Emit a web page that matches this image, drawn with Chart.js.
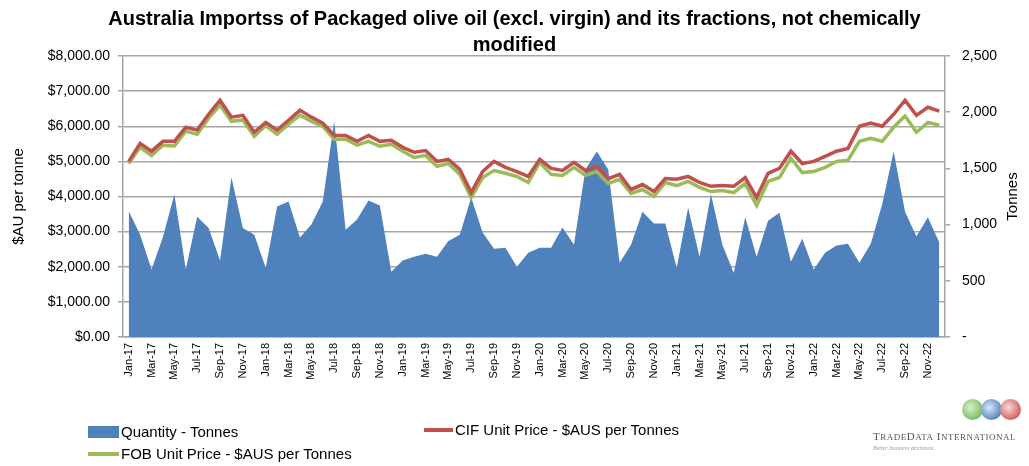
<!DOCTYPE html>
<html>
<head>
<meta charset="utf-8">
<script src="https://cdn.jsdelivr.net/npm/chart.js@4.4.1/dist/chart.umd.min.js"></script>
<style>
  html, body { margin: 0; padding: 0; background: #fff; }
  #wrap { position: relative; width: 1029px; height: 466px; font-family: 'Liberation Sans Narrow', 'Arial Narrow', 'Liberation Sans', sans-serif; color: #000; }
  #c { position: absolute; left: 0; top: 0; }
  .lg { position: absolute; font-size: 15px; line-height: 16px; white-space: nowrap; }
  .sw { position: absolute; }
  .logo-dot { position: absolute; width: 21px; height: 21px; border-radius: 50%; }
  .logo-txt { position: absolute; font-family: 'Liberation Serif', 'DejaVu Serif', serif; color: #555; white-space: nowrap; }
</style>
</head>
<body>
<div id="wrap">
  <canvas id="c" width="1029" height="466"></canvas>

  <div class="sw" style="left:88px;top:426px;width:31px;height:12px;background:#4F81BD"></div>
  <div class="lg" style="left:121px;top:424px">Quantity - Tonnes</div>

  <div class="sw" style="left:424px;top:428px;width:29px;height:4px;background:#C0504D"></div>
  <div class="lg" style="left:455px;top:422px">CIF Unit Price - $AUS per Tonnes</div>

  <div class="sw" style="left:88px;top:452px;width:31px;height:4px;background:#9BBB59"></div>
  <div class="lg" style="left:121px;top:446px">FOB Unit Price - $AUS per Tonnes</div>

  <div class="logo-dot" style="left:962px;top:399px;background:radial-gradient(circle at 40% 40%, #d8f0c8, #5aa83c)"></div>
  <div class="logo-dot" style="left:981px;top:399px;background:radial-gradient(circle at 40% 40%, #d8e8f8, #2a5fa8)"></div>
  <div class="logo-dot" style="left:1000px;top:399px;background:radial-gradient(circle at 40% 40%, #f8d8d8, #c83030)"></div>
  <div class="logo-txt" style="left:873px;top:430px;font-size:11px;letter-spacing:0.5px">T<span style="font-size:9px">RADE</span>D<span style="font-size:9px">ATA</span> I<span style="font-size:9px">NTERNATIONAL</span></div>
  <div class="logo-txt" style="left:873px;top:445px;font-size:6px;font-style:italic;color:#999">Better business decisions.</div>
</div>

<script>
const months = [
  'Jan-17','Feb-17','Mar-17','Apr-17','May-17','Jun-17','Jul-17','Aug-17','Sep-17','Oct-17','Nov-17','Dec-17',
  'Jan-18','Feb-18','Mar-18','Apr-18','May-18','Jun-18','Jul-18','Aug-18','Sep-18','Oct-18','Nov-18','Dec-18',
  'Jan-19','Feb-19','Mar-19','Apr-19','May-19','Jun-19','Jul-19','Aug-19','Sep-19','Oct-19','Nov-19','Dec-19',
  'Jan-20','Feb-20','Mar-20','Apr-20','May-20','Jun-20','Jul-20','Aug-20','Sep-20','Oct-20','Nov-20','Dec-20',
  'Jan-21','Feb-21','Mar-21','Apr-21','May-21','Jun-21','Jul-21','Aug-21','Sep-21','Oct-21','Nov-21','Dec-21',
  'Jan-22','Feb-22','Mar-22','Apr-22','May-22','Jun-22','Jul-22','Aug-22','Sep-22','Oct-22','Nov-22','Dec-22',
];

// Quantity - Tonnes (right axis)
const quantity = [
  1120, 910, 600, 890, 1270, 600, 1070, 970, 680, 1420, 970, 910,
  615, 1160, 1205, 885, 1000, 1205, 1920, 955, 1045, 1215, 1170, 580,
  680, 715, 740, 715, 855, 910, 1240, 930, 785, 795, 625, 750,
  795, 795, 975, 820, 1490, 1650, 1490, 660, 820, 1115, 1010, 1010,
  615, 1150, 715, 1270, 820, 570, 1065, 715, 1035, 1105, 670, 875,
  600, 750, 815, 830, 660, 830, 1180, 1650, 1115, 895, 1065, 840,
];

// CIF Unit Price - $AUS per Tonnes
const cifPrice = [
  5000, 5510, 5290, 5570, 5570, 5970, 5890, 6340, 6740, 6260, 6310, 5830,
  6110, 5890, 6170, 6460, 6260, 6090, 5740, 5740, 5570, 5740, 5570, 5600,
  5400, 5260, 5310, 5000, 5060, 4770, 4110, 4710, 5000, 4830, 4710, 4570,
  5060, 4800, 4740, 4970, 4740, 4860, 4510, 4630, 4200, 4340, 4140, 4510,
  4490, 4570, 4400, 4290, 4310, 4290, 4540, 3970, 4660, 4800, 5290, 4940,
  5000, 5140, 5290, 5370, 6000, 6090, 6000, 6340, 6740, 6310, 6540, 6430,
];

// FOB Unit Price - $AUS per Tonnes
const fobPrice = [
  4940, 5400, 5170, 5460, 5440, 5860, 5770, 6230, 6600, 6140, 6180, 5710,
  6020, 5770, 6060, 6320, 6140, 6000, 5630, 5630, 5460, 5570, 5430, 5490,
  5290, 5110, 5170, 4860, 4940, 4630, 3970, 4540, 4740, 4660, 4570, 4400,
  4970, 4630, 4600, 4830, 4600, 4710, 4370, 4490, 4090, 4200, 4000, 4400,
  4310, 4430, 4260, 4140, 4170, 4110, 4370, 3740, 4430, 4540, 5090, 4680,
  4710, 4830, 5000, 5030, 5570, 5660, 5570, 5970, 6290, 5830, 6110, 6030,
];

const FONT = "'Liberation Sans Narrow', 'Arial Narrow', 'Liberation Sans', sans-serif";
const C = {
  blue:  '#4F81BD',
  red:   '#C0504D',
  green: '#9BBB59',
  grid:  '#A6A6A6',
  text:  '#000000',
};

Chart.defaults.font.family = FONT;
Chart.defaults.color = C.text;

// right axis title reads bottom-to-top, like the left one
const rightTitle = {
  id: 'rightTitle',
  afterDraw(chart) {
    const ctx = chart.ctx;
    ctx.save();
    ctx.translate(1013, chart.chartArea.top + (chart.chartArea.bottom - chart.chartArea.top) / 2);
    ctx.rotate(-Math.PI / 2);
    ctx.font = `15px ${FONT}`;
    ctx.fillStyle = C.text;
    ctx.textAlign = 'center';
    ctx.textBaseline = 'middle';
    ctx.fillText('Tonnes', 0, 0);
    ctx.restore();
  },
};

new Chart(document.getElementById('c'), {
  type: 'line',
  data: {
    labels: months,
    datasets: [
      {
        label: 'Quantity - Tonnes', data: quantity, yAxisID: 'y2',
        borderWidth: 0, backgroundColor: C.blue, fill: 'origin',
        pointRadius: 0, tension: 0, order: 3,
      },
      {
        label: 'FOB Unit Price - $AUS per Tonnes', data: fobPrice, yAxisID: 'y',
        borderColor: C.green, borderWidth: 3.5, pointRadius: 0, tension: 0, fill: false, order: 2,
      },
      {
        label: 'CIF Unit Price - $AUS per Tonnes', data: cifPrice, yAxisID: 'y',
        borderColor: C.red, borderWidth: 3.5, pointRadius: 0, tension: 0, fill: false, order: 1,
      },
    ],
  },
  options: {
    responsive: false,
    animation: false,
    layout: { padding: { top: 6, right: 0, bottom: 0, left: 0 } },
    plugins: {
      legend: { display: false },
      tooltip: { enabled: false },
      title: {
        display: true,
        text: ['Australia Importss of Packaged olive oil (excl. virgin) and its fractions, not chemically', 'modified'],
        font: { size: 20, weight: 'bold', lineHeight: 1.3 },
        color: C.text,
        padding: { top: 0, bottom: -2 },
      },
    },
    scales: {
      x: {
        offset: true,
        grid: { display: false, drawTicks: false },
        border: { color: C.grid, width: 1.5 },
        ticks: {
          autoSkip: false, maxRotation: 90, minRotation: 90, padding: 6,
          font: { size: 11 }, color: C.text,
          callback: (v, i) => i % 2 === 0 ? months[i] : '',
        },
        afterFit: s => { s.height = 129; },
      },
      y: {
        position: 'left', min: 0, max: 8000,
        grid: { color: C.grid, lineWidth: 1.5, tickLength: 5 },
        border: { color: C.grid, width: 1.5 },
        ticks: {
          stepSize: 1000, padding: 8, font: { size: 14 }, color: C.text,
          callback: v => '$' + v.toLocaleString('en-US', { minimumFractionDigits: 2, maximumFractionDigits: 2 }),
        },
        title: { display: true, text: '$AU per tonne', font: { size: 15 }, color: C.text, padding: { top: 10, bottom: 4 } },
        afterFit: s => { s.width = 123; },
      },
      y2: {
        position: 'right', min: 0, max: 2500,
        grid: { drawOnChartArea: false, color: C.grid, lineWidth: 1.5, tickLength: 5 },
        border: { color: C.grid, width: 1.5 },
        ticks: {
          stepSize: 500, padding: 12, font: { size: 14 }, color: C.text,
          callback: v => v === 0 ? '-' : v.toLocaleString('en-US'),
        },
        afterFit: s => { s.width = 84; },
      },
    },
  },
  plugins: [rightTitle],
});
</script>
</body>
</html>
